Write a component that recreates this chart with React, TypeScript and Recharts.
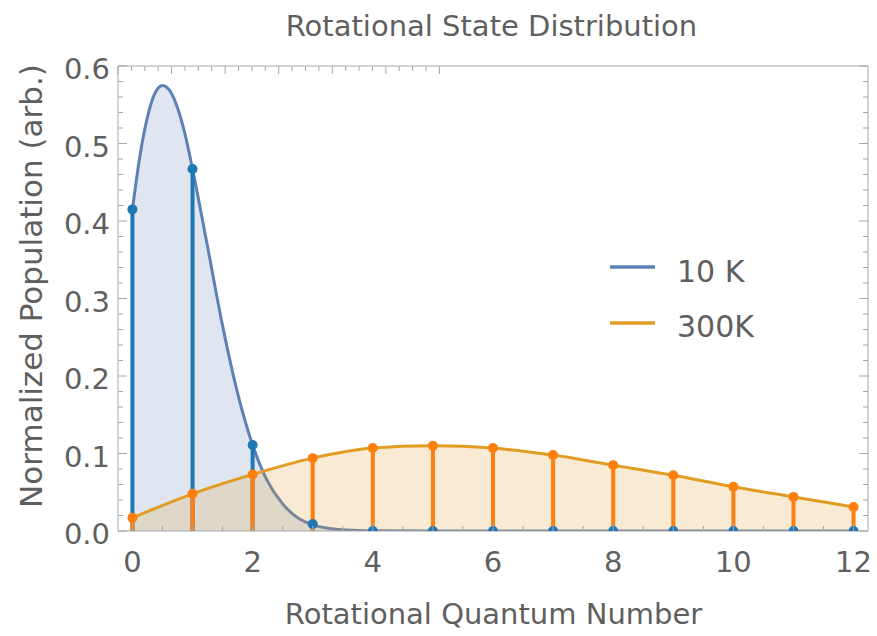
import React from 'react';
import { ComposedChart, Area, XAxis, YAxis, ReferenceLine, ReferenceDot } from 'recharts';

// rotational levels J and the stick populations at each level
const quantumJ = [0, 1, 2, 3, 4, 5, 6, 7, 8, 9, 10, 11, 12];
const pop10K = [0.415, 0.467, 0.111, 0.009, 0, 0, 0, 0, 0, 0, 0, 0, 0];
const pop300K = [0.017, 0.048, 0.073, 0.094, 0.107, 0.110, 0.107, 0.098, 0.085, 0.072, 0.057, 0.044, 0.031];

// continuous 10 K envelope
const curveJ = [0, 0.125, 0.25, 0.375, 0.5, 0.625, 0.75, 0.875, 1, 1.25, 1.5, 1.75, 2, 2.25, 2.5, 2.75, 3, 3.25, 3.5, 3.75, 4, 5, 6, 7, 8, 9, 10, 11, 12];
const curve10K = [0.415, 0.484, 0.534, 0.565, 0.575, 0.568, 0.546, 0.512, 0.467, 0.367, 0.265, 0.178, 0.111, 0.064, 0.035, 0.017, 0.008, 0.0036, 0.0015, 0.0006, 0.0002, 0, 0, 0, 0, 0, 0, 0, 0];

const xTicks = [0, 0.5, 1, 1.5, 2, 2.5, 3, 3.5, 4, 4.5, 5, 5.5, 6, 6.5, 7, 7.5, 8, 8.5, 9, 9.5, 10, 10.5, 11, 11.5, 12];
const yTicks = [0, 0.02, 0.04, 0.06, 0.08, 0.1, 0.12, 0.14, 0.16, 0.18, 0.2, 0.22, 0.24, 0.26, 0.28, 0.3, 0.32, 0.34, 0.36, 0.38, 0.4, 0.42, 0.44, 0.46, 0.48, 0.5, 0.52, 0.54, 0.56, 0.58, 0.6];

const seriesNames = ['10 K', '300K'];

const BLUE = '#5e81b5';
const ORANGE = '#e19c24';
const BLUE_STEM = '#1f77b4';
const ORANGE_STEM = '#ff7f0e';
const FRAME = '#a6a6a6';
const TEXT = '#5f5f5f';
const FONT = '"DejaVu Sans", Verdana, sans-serif';

const chartData = curveJ.map((j, i) => {
  const k = quantumJ.indexOf(j);
  return { J: j, c10: curve10K[i], c300: k >= 0 ? pop300K[k] : null };
});

const isMajorX = (v: number) => Math.abs(v % 2) < 1e-9;
const isMajorY = (v: number) => Math.abs(v * 10 - Math.round(v * 10)) < 1e-6;

function BottomTick({ x, y, payload }: any) {
  const v = payload.value;
  const major = isMajorX(v);
  return (
    <g>
      <line x1={x} x2={x} y1={y} y2={y - (major ? 8 : 5)} stroke={FRAME} />
      {major && (
        <text x={x} y={y + 41} textAnchor="middle" fill={TEXT} fontSize={29} fontFamily={FONT}>
          {v}
        </text>
      )}
    </g>
  );
}

function TopTick({ x, y, payload }: any) {
  const major = isMajorX(payload.value);
  return <line x1={x} x2={x} y1={y} y2={y + (major ? 8 : 5)} stroke={FRAME} />;
}

function LeftTick({ x, y, payload }: any) {
  const v = payload.value;
  const major = isMajorY(v);
  return (
    <g>
      <line x1={x} x2={x + (major ? 9 : 5)} y1={y} y2={y} stroke={FRAME} />
      {major && (
        <text x={x - 8} y={y + 13} textAnchor="end" fill={TEXT} fontSize={29} fontFamily={FONT}>
          {v.toFixed(1)}
        </text>
      )}
    </g>
  );
}

function RightTick({ x, y, payload }: any) {
  const major = isMajorY(payload.value);
  return <line x1={x} x2={x - (major ? 9 : 5)} y1={y} y2={y} stroke={FRAME} />;
}

const axisCommon = {
  type: 'number' as const,
  allowDataOverflow: true,
  interval: 0 as const,
  tickSize: 0,
  tickMargin: 0,
  tickLine: false,
  axisLine: { stroke: FRAME },
};

export default function App() {
  return (
    <div style={{ position: 'absolute', left: 0, top: 0, width: 877, height: 636, background: '#fff' }}>
      <ComposedChart width={877} height={636} data={chartData} margin={{ top: 65, right: 8, bottom: 104, left: 117 }}>
        <XAxis {...axisCommon} xAxisId="b" dataKey="J" domain={[-0.24, 12.24]} ticks={xTicks} height={1} tick={BottomTick} />
        <XAxis {...axisCommon} xAxisId="t" orientation="top" domain={[-0.24, 12.24]} ticks={xTicks} height={1} tick={TopTick} />
        <YAxis {...axisCommon} yAxisId="l" domain={[0, 0.6]} ticks={yTicks} width={1} tick={LeftTick} />
        <YAxis {...axisCommon} yAxisId="r" orientation="right" domain={[0, 0.6]} ticks={yTicks} width={1} tick={RightTick} />
        <Area
          xAxisId="b"
          yAxisId="l"
          name={seriesNames[0]}
          type="monotone"
          dataKey="c10"
          stroke={BLUE}
          strokeWidth={3}
          fill={BLUE}
          fillOpacity={0.2}
          dot={false}
          activeDot={false}
          isAnimationActive={false}
        />
        <Area
          xAxisId="b"
          yAxisId="l"
          name={seriesNames[1]}
          type="monotone"
          dataKey="c300"
          connectNulls
          stroke={ORANGE}
          strokeWidth={3}
          fill={ORANGE}
          fillOpacity={0.2}
          dot={false}
          activeDot={false}
          isAnimationActive={false}
        />
        {quantumJ.map((j, i) => (
          <ReferenceLine
            key={`bs${j}`}
            xAxisId="b"
            yAxisId="l"
            segment={[{ x: j, y: 0 }, { x: j, y: pop10K[i] }]}
            stroke={BLUE_STEM}
            strokeWidth={4}
          />
        ))}
        {quantumJ.map((j, i) => (
          <ReferenceDot
            key={`bd${j}`}
            xAxisId="b"
            yAxisId="l"
            x={j}
            y={pop10K[i]}
            r={5}
            fill={BLUE_STEM}
            stroke="none"
            ifOverflow="hidden"
          />
        ))}
        {quantumJ.map((j, i) => (
          <ReferenceLine
            key={`os${j}`}
            xAxisId="b"
            yAxisId="l"
            segment={[{ x: j, y: 0 }, { x: j, y: pop300K[i] }]}
            stroke={ORANGE_STEM}
            strokeWidth={4}
          />
        ))}
        {quantumJ.map((j, i) => (
          <ReferenceDot
            key={`od${j}`}
            xAxisId="b"
            yAxisId="l"
            x={j}
            y={pop300K[i]}
            r={5}
            fill={ORANGE_STEM}
            stroke="none"
            ifOverflow="hidden"
          />
        ))}
      </ComposedChart>
      <svg
        width={877}
        height={636}
        style={{ position: 'absolute', left: 0, top: 0, pointerEvents: 'none' }}
        fontFamily={FONT}
        fill={TEXT}
      >
        <text x={491.5} y={36} textAnchor="middle" fontSize={29}>
          Rotational State Distribution
        </text>
        <text x={493.5} y={624} textAnchor="middle" fontSize={29}>
          Rotational Quantum Number
        </text>
        <text x={42} y={286} textAnchor="middle" fontSize={31} transform="rotate(-90 42 286)">
          Normalized Population (arb.)
        </text>
        {seriesNames.map((name, i) => (
          <g key={name}>
            <line
              x1={610}
              x2={655}
              y1={267 + i * 56}
              y2={267 + i * 56}
              stroke={i === 0 ? BLUE : ORANGE}
              strokeWidth={3.5}
            />
            <text x={677} y={282 + i * 55} fontSize={30}>
              {name}
            </text>
          </g>
        ))}
      </svg>
    </div>
  );
}
